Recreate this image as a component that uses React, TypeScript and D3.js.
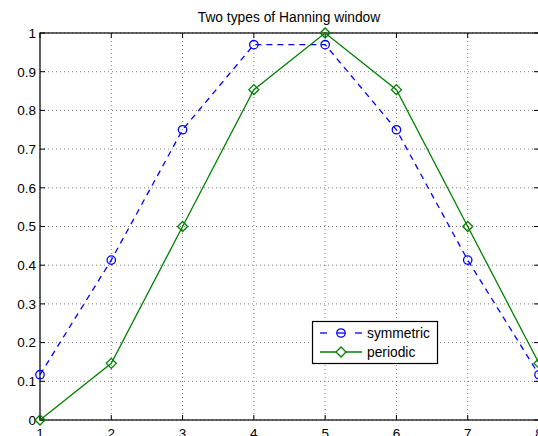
import React from "react";
import * as d3 from "d3";

const xs = [1, 2, 3, 4, 5, 6, 7, 8];
const symmetric = [0.117, 0.4132, 0.75, 0.9698, 0.9698, 0.75, 0.4132, 0.117];
const periodic = [0, 0.1464, 0.5, 0.8536, 1, 0.8536, 0.5, 0.1464];
const xTicks = [1, 2, 3, 4, 5, 6, 7, 8];
const yTicks = [0, 0.1, 0.2, 0.3, 0.4, 0.5, 0.6, 0.7, 0.8, 0.9, 1];

const W = 538, H = 436;
const m = { left: 40, top: 33, right: 539, bottom: 420 };
const font = "Liberation Sans, Arial, Helvetica, sans-serif";

export default function App() {
  const x = d3.scaleLinear().domain([1, 8]).range([m.left, m.right]);
  const y = d3.scaleLinear().domain([0, 1]).range([m.bottom, m.top]);
  const line = d3.line<number>().x((d, i) => x(xs[i])).y(d => y(d));
  const diamond = (cx: number, cy: number, r: number) =>
    `M${cx},${cy - r}L${cx + r},${cy}L${cx},${cy + r}L${cx - r},${cy}Z`;

  return (
    <svg width={W} height={H} style={{ position: "absolute", left: 0, top: 0, background: "#fff" }}
      fontFamily={font}>
      <rect x={0} y={0} width={W} height={H} fill="#fff" />
      {/* grid */}
      {xTicks.map(t => (
        <line key={"gx" + t} x1={x(t)} x2={x(t)} y1={m.top} y2={m.bottom}
          stroke="#444" strokeWidth={0.7} strokeDasharray="1,3" />
      ))}
      {yTicks.map(t => (
        <line key={"gy" + t} x1={m.left} x2={m.right} y1={y(t)} y2={y(t)}
          stroke="#444" strokeWidth={0.7} strokeDasharray="1,3" />
      ))}
      {/* ticks */}
      {xTicks.map(t => (
        <g key={"tx" + t}>
          <line x1={x(t)} x2={x(t)} y1={m.bottom} y2={m.bottom - 5} stroke="#000" />
          <line x1={x(t)} x2={x(t)} y1={m.top} y2={m.top + 5} stroke="#000" />
          <text x={x(t)} y={m.bottom + 18} fontSize={13.5} textAnchor="middle" fill="#000">{t}</text>
        </g>
      ))}
      {yTicks.map(t => (
        <g key={"ty" + t}>
          <line x1={m.left} x2={m.left + 5} y1={y(t)} y2={y(t)} stroke="#000" />
          <line x1={m.right} x2={m.right - 5} y1={y(t)} y2={y(t)} stroke="#000" />
          <text x={m.left - 4} y={y(t) + 4.8} fontSize={13.5} textAnchor="end" fill="#000">{String(t)}</text>
        </g>
      ))}
      <rect x={m.left} y={m.top} width={m.right - m.left} height={m.bottom - m.top}
        fill="none" stroke="#000" strokeWidth={1.2} />
      <text x={289} y={22} fontSize={13.8} textAnchor="middle" fill="#000">Two types of Hanning window</text>

      {/* series */}
      <path d={line(symmetric) || ""} fill="none" stroke="#0000ff" strokeWidth={1.3} strokeDasharray="6,5" />
      {symmetric.map((v, i) => (
        <circle key={"s" + i} cx={x(xs[i])} cy={y(v)} r={4.2} fill="none" stroke="#0000ff" strokeWidth={1.3} />
      ))}
      <path d={line(periodic) || ""} fill="none" stroke="#008000" strokeWidth={1.3} />
      {periodic.map((v, i) => (
        <path key={"p" + i} d={diamond(x(xs[i]), y(v), 5)} fill="none" stroke="#008000" strokeWidth={1.3} />
      ))}

      {/* legend */}
      <rect x={312.5} y={321.5} width={125} height={42} fill="#fff" stroke="#000" strokeWidth={1.2} />
      <line x1={320} x2={327} y1={333} y2={333} stroke="#0000ff" strokeWidth={1.3} />
      <line x1={355} x2={362} y1={333} y2={333} stroke="#0000ff" strokeWidth={1.3} />
      <circle cx={341} cy={333} r={4.2} fill="none" stroke="#0000ff" strokeWidth={1.3} />
      <line x1={336.8} x2={345.2} y1={333} y2={333} stroke="#0000ff" strokeWidth={1.3} />
      <text x={367} y={338} fontSize={13.8} fill="#000">symmetric</text>
      <line x1={320} x2={362} y1={352} y2={352} stroke="#008000" strokeWidth={1.3} />
      <path d={diamond(341, 352, 5)} fill="#fff" stroke="#008000" strokeWidth={1.3} />
      <text x={367} y={357} fontSize={13.8} fill="#000">periodic</text>
    </svg>
  );
}
